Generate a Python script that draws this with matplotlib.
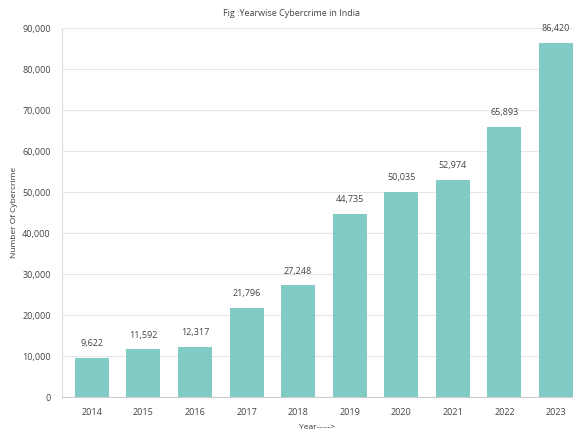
import matplotlib
matplotlib.use("Agg")
import matplotlib.pyplot as plt

years = ["2014", "2015", "2016", "2017", "2018", "2019", "2020", "2021", "2022", "2023"]
cases = [9622, 11592, 12317, 21796, 27248, 44735, 50035, 52974, 65893, 86420]
yticks = [0, 10000, 20000, 30000, 40000, 50000, 60000, 70000, 80000, 90000]

plt.rcParams['font.family'] = ['Open Sans', 'DejaVu Sans']

fig = plt.figure(figsize=(5.73, 4.32), dpi=100)
ax = fig.add_axes([0.108, 0.081, 0.892, 0.854])

x = list(range(len(years)))
ax.bar(x, cases, width=0.66, color="#80CBC4", zorder=3)
for xi, v in zip(x, cases):
    ax.text(xi, v + 2300, f"{v:,}", ha="center", va="bottom", fontsize=6.5, color="#444444")

ax.set_xlim(-0.58, 9.33)
ax.set_ylim(0, 90000)
ax.set_yticks(yticks)
ax.set_yticklabels([f"{t:,}" for t in yticks])
ax.set_xticks(x)
ax.set_xticklabels(years)
ax.tick_params(axis="both", labelsize=6.5, colors="#444444", length=0)
ax.tick_params(axis="x", pad=8)
ax.tick_params(axis="y", pad=8)
ax.grid(axis="y", color="#e6e6e6", linewidth=0.8, zorder=0)
for s in ["top", "right"]:
    ax.spines[s].set_visible(False)
ax.spines["left"].set_color("#dddddd")
ax.spines["bottom"].set_color("#cccccc")

ax.set_ylabel("Number Of Cybercrime", fontsize=6, color="#333333", labelpad=6)
ax.yaxis.set_label_coords(-0.085, 0.5)
ax.set_xlabel("Year----->", fontsize=6, color="#333333")
ax.xaxis.set_label_coords(0.5, -0.074)
fig.text(0.508, 0.968, "Fig :Yearwise Cybercrime in India", ha="center", va="center", fontsize=6.5, color="#444444")

fig.savefig("out.png", dpi=100)
